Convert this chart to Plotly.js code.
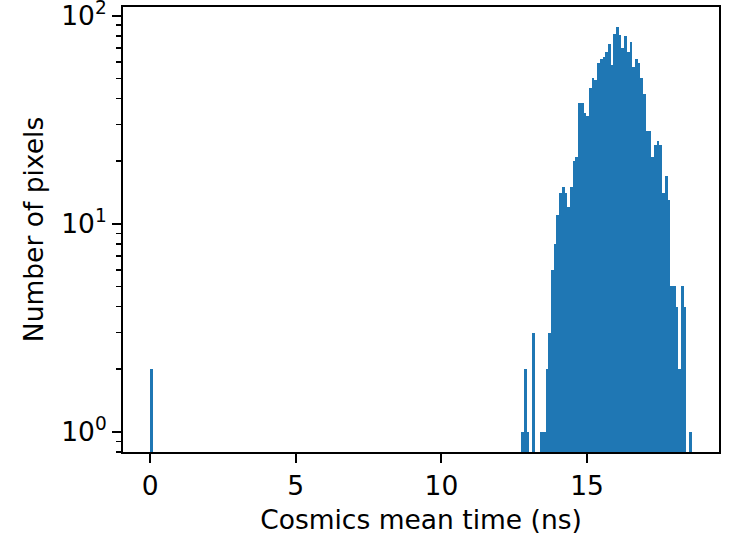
<!DOCTYPE html>
<html>
<head>
<meta charset="utf-8">
<script src="https://cdn.plot.ly/plotly-3.0.1.min.js"></script>
<style>html,body{margin:0;padding:0;background:#fff;}#chart{width:729px;height:535px;}</style>
</head>
<body>
<div id="chart"></div>
<script>
// Histogram of cosmics mean time: 200 bins from 0 to ~18.6 ns
const binStart = 0;
const binWidth = 0.093;
const binIndex = [0,137,138,139,141,144,145,146,147,148,149,150,151,152,153,154,155,156,157,158,159,160,161,162,163,164,165,166,167,168,169,170,171,172,173,174,175,176,177,178,179,180,181,182,183,184,185,186,187,188,189,190,191,192,193,194,195,196,197,199];
const counts   = [2,1,2,1,3,1,1,2,3,6,8,11,14,15,14,12,15,20,21,38,38,34,33,45,50,49,59,62,63,67,73,58,82,88,81,70,80,67,75,57,62,59,50,42,28,28,21,24,25,24,14,17,13,5,5,4,2,5,4,1];
const xTickVals = [0,5,10,15];
const yTickVals = [1,10,100];
const yTickText = ['10<sup>0</sup>','10<sup>1</sup>','10<sup>2</sup>'];
const yMinorVals = [0.8,0.9,2,3,4,5,6,7,8,9,20,30,40,50,60,70,80,90];

const centers = binIndex.map(i => binStart + (i + 0.5) * binWidth);

const trace = {
  type: 'bar',
  x: centers,
  y: counts,
  width: binWidth,
  marker: {color: '#1f77b4', line: {width: 0}},
  hoverinfo: 'x+y'
};

const font = {family: 'DejaVu Sans, sans-serif', size: 26.5, color: '#000'};

const layout = {
  width: 729, height: 535,
  margin: {l: 123, r: 10, t: 7, b: 83},
  paper_bgcolor: '#fff', plot_bgcolor: '#fff',
  showlegend: false,
  bargap: 0,
  font: font,
  xaxis: {
    range: [-0.93, 19.53],
    tickvals: xTickVals,
    ticks: 'outside', ticklen: 9, tickwidth: 2, tickcolor: '#000',
    showline: true, linewidth: 2, linecolor: '#000', mirror: true,
    showgrid: false, zeroline: false,
    tickfont: font,
    title: {text: 'Cosmics mean time (ns)', font: font, standoff: 12}
  },
  yaxis: {
    type: 'log',
    range: [-0.097, 2.042],
    tickvals: yTickVals, ticktext: yTickText,
    ticklabeloverflow: 'allow',
    ticks: 'outside', ticklen: 9, tickwidth: 2, tickcolor: '#000',
    minor: {tickvals: yMinorVals, ticks: 'outside', ticklen: 5, tickwidth: 1.6, tickcolor: '#000', showgrid: false},
    showline: true, linewidth: 2, linecolor: '#000', mirror: true,
    showgrid: false, zeroline: false,
    tickfont: font,
    title: {text: 'Number of pixels', font: font, standoff: 10}
  }
};

Plotly.newPlot('chart', [trace], layout, {displayModeBar: false, staticPlot: true});
</script>
</body>
</html>
